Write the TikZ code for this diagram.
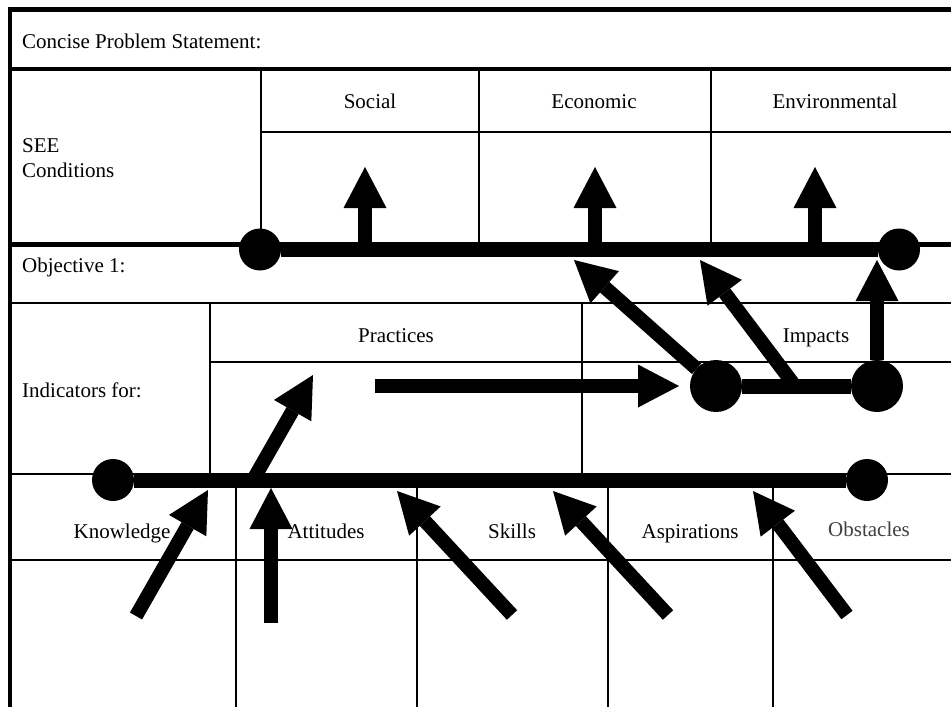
\documentclass[tikz,border=0pt]{standalone}
\usepackage{fontspec}
\setmainfont{Liberation Serif}
\usepackage{tkz-graph}
\usetikzlibrary{arrows.meta}

\begin{document}
\begin{tikzpicture}[x=1pt,y=-1pt,
  every node/.style={font=\fontsize{21}{25}\selectfont},
  thickrule/.style={line width=4.5pt},
  thinrule/.style={line width=1.3pt},
  tabletext/.style={anchor=base west, inner sep=0pt},
  headtext/.style={anchor=base, inner sep=0pt},
  fatarrow/.style={line width=14pt, -{Triangle[width=43pt,length=41pt,line width=0pt]}}]

\useasboundingbox (0,0) rectangle (951,707);

% table rules
\draw[thickrule] (10,707) -- (10,9.5) -- (951,9.5);
\draw[thickrule] (10,69) -- (951,69);
\draw[thickrule] (10,244.5) -- (951,244.5);
\draw[thinrule] (10,303) -- (951,303);
\draw[thinrule] (10,474) -- (951,474);
\draw[thinrule] (10,560) -- (951,560);
\draw[thinrule] (261,132) -- (951,132);
\draw[thinrule] (210,362) -- (951,362);
\foreach \x in {261,479,711} \draw[thinrule] (\x,69) -- (\x,244.5);
\foreach \x in {210,582} \draw[thinrule] (\x,303) -- (\x,474);
\foreach \x in {236,417,608,773} \draw[thinrule] (\x,474) -- (\x,707);

% row labels
\node[tabletext] (problem) at (22,48) {Concise Problem Statement:};
\node[tabletext] (see) at (22,152) {SEE};
\node[tabletext] (conditions) at (22,177) {Conditions};
\node[tabletext] (objective) at (22,272) {Objective 1:};
\node[tabletext] (indicators) at (22,397) {Indicators for:};

% column labels
\node[headtext] (social) at (370,108) {Social};
\node[headtext] (economic) at (594,108) {Economic};
\node[headtext] (environmental) at (835,108) {Environmental};
\node[headtext] (practices) at (396,342) {Practices};
\node[headtext] (impacts) at (816,342) {Impacts};
\node[headtext] (knowledge) at (122,538) {Knowledge};
\node[headtext] (attitudes) at (326,538) {Attitudes};
\node[headtext] (skills) at (512,538) {Skills};
\node[headtext] (aspirations) at (690,538) {Aspirations};
\node[headtext, text=black!75] (obstacles) at (869,536) {Obstacles};

% spines
\GraphInit[vstyle=Simple]
\SetUpEdge[lw = 15pt, color = black]
\tikzset{VertexStyle/.style = {shape=circle, fill=black, draw=none, minimum size = 42pt, inner sep = 0pt}}
\Vertex[x=260,y=249.5,NoLabel]{seeL}
\Vertex[x=899,y=249.5,NoLabel]{seeR}
\Vertex[x=113,y=480,NoLabel]{indL}
\Vertex[x=867,y=480,NoLabel]{indR}
\tikzset{VertexStyle/.append style = {minimum size = 52pt}}
\Vertex[x=716,y=386,NoLabel]{impA}
\Vertex[x=877,y=386,NoLabel]{impB}

\Edges(seeL,seeR)
\Edges(indL,indR)
\Edges(impA,impB)

% bones
\foreach \n/\x in {soc/365,eco/595,env/815} {
  \coordinate (\n B) at (\x,249);
  \coordinate (\n T) at (\x,167);
  \draw[fatarrow] (\n B) -- (\n T);
}

\coordinate (impM) at (795,386);
\coordinate (ecoTip) at (574,260);
\coordinate (envTip) at (700,260);
\coordinate (objTip) at (877,260);
\draw[fatarrow] (impA) -- (ecoTip);
\draw[fatarrow] (impM) -- (envTip);
\draw[fatarrow] (impB) -- (objTip);

\coordinate (pracS) at (375,386);
\coordinate (pracE) at (679,386);
\draw[fatarrow] (pracS) -- (pracE);

\coordinate (indM) at (253,480);
\coordinate (pracTip) at (313,375);
\draw[fatarrow] (indM) -- (pracTip);

\foreach \n/\xa/\ya/\xb/\yb in {kno/136/616/208/490, att/271/623/271/488,
    ski/512/615/397/491, asp/668/615/553/491, obs/847/615/753/491} {
  \coordinate (\n T) at (\xa,\ya);
  \coordinate (\n H) at (\xb,\yb);
  \draw[fatarrow] (\n T) -- (\n H);
}

\end{tikzpicture}
\end{document}
